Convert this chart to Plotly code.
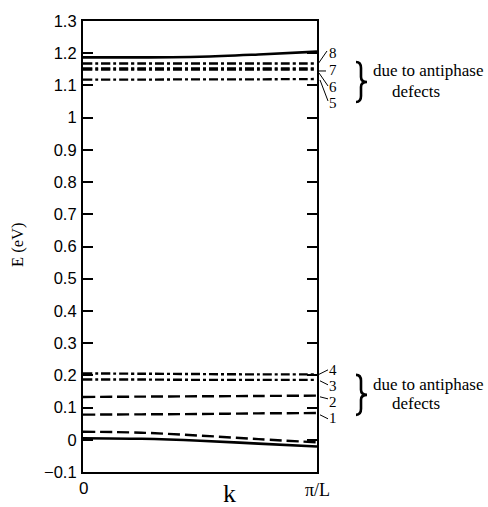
import plotly.graph_objects as go

# ---------------- data ----------------
k = [0.0, 0.25, 0.5, 0.75, 1.0]

band8 = [1.187, 1.187, 1.189, 1.196, 1.205]   # solid
band7 = [1.168, 1.168, 1.168, 1.168, 1.168]   # dash-dot
band6a = [1.153, 1.153, 1.153, 1.153, 1.153]  # dash-dot (thick pair)
band6b = [1.149, 1.149, 1.149, 1.149, 1.149]
band5 = [1.118, 1.118, 1.119, 1.119, 1.120]   # dash-dot

band4 = [0.206, 0.205, 0.204, 0.203, 0.203]   # dash-dot
band3 = [0.187, 0.187, 0.186, 0.186, 0.186]   # dash-dot
band2 = [0.133, 0.134, 0.135, 0.136, 0.137]   # dashed
band1 = [0.078, 0.079, 0.080, 0.082, 0.083]   # dashed
band_d = [0.025, 0.022, 0.013, 0.002, -0.008]  # dashed
band_s = [0.005, 0.003, -0.003, -0.012, -0.021]  # solid

y_tick_vals = [-0.1, 0.0, 0.1, 0.2, 0.3, 0.4, 0.5, 0.6, 0.7, 0.8, 0.9, 1.0, 1.1, 1.2, 1.3]
y_tick_text = ["\u22120.1", "0", "0.1", "0.2", "0.3", "0.4", "0.5", "0.6", "0.7",
               "0.8", "0.9", "1", "1.1", "1.2", "1.3"]
x_tick_text = ["0", "\u03c0/L"]
band_labels = ["1", "2", "3", "4", "5", "6", "7", "8"]
group_note = ["due to antiphase", "defects"]

# ---------------- layout helpers (page pixel coords) ----------------
W, H = 488, 507
L, R, T, B = 83, 317, 21, 472.2


def px(x):
    return (x - L) / (R - L)


def py(y):
    return (B - y) / (B - T)


SOLID = "solid"
DASH = "12px,5px"
DASHDOT = "9px,3px,3px,3px"

fig = go.Figure()


def add(vals, dash, width=2.4):
    fig.add_trace(go.Scatter(x=k, y=vals, mode="lines", line_shape="spline",
                             line=dict(color="black", width=width, dash=dash),
                             hoverinfo="skip", showlegend=False))


add(band8, SOLID, 2.6)
add(band7, DASHDOT, 2.3)
add(band6a, DASHDOT, 2.3)
add(band6b, DASHDOT, 2.3)
add(band5, DASHDOT, 2.3)
add(band4, DASHDOT, 2.4)
add(band3, DASHDOT, 2.4)
add(band2, DASH)
add(band1, DASH)
add(band_d, DASH)
add(band_s, SOLID, 2.6)

ann = []
shapes = []
serif = "Liberation Serif, Times New Roman, serif"
sans = "Liberation Sans, Arial, Helvetica, sans-serif"

# x tick labels
ann.append(dict(x=px(83), y=py(489), xref="paper", yref="paper", text=x_tick_text[0],
                showarrow=False, font=dict(family=sans, size=17, color="black"),
                xanchor="center", yanchor="middle"))
ann.append(dict(x=px(317), y=py(490), xref="paper", yref="paper", text=x_tick_text[1],
                showarrow=False, font=dict(family=serif, size=18, color="black"),
                xanchor="center", yanchor="middle"))

# band numbers with leader lines: (label, text pos, leader from, leader to)
leaders = [
    (band_labels[7], (333, 53), (318, 64), (327, 51)),
    (band_labels[6], (333, 70), (318, 71), (326, 71)),
    (band_labels[5], (333, 87), (319, 73), (328, 86)),
    (band_labels[4], (333, 103), (320, 80), (328, 101)),
    (band_labels[3], (333, 370), (318, 375), (328, 370)),
    (band_labels[2], (333, 386), (320, 381), (328, 385)),
    (band_labels[1], (333, 402), (320, 397), (328, 399)),
    (band_labels[0], (333, 418), (320, 415), (328, 419)),
]
for lab, (tx, ty), (x0, y0), (x1, y1) in leaders:
    ann.append(dict(x=px(tx), y=py(ty), xref="paper", yref="paper", text=lab,
                    showarrow=False, font=dict(family=serif, size=15, color="black"),
                    xanchor="center", yanchor="middle"))
    shapes.append(dict(type="line", xref="paper", yref="paper",
                       x0=px(x0), y0=py(y0), x1=px(x1), y1=py(y1),
                       line=dict(color="black", width=1)))


def brace(cy, half=20, xl=356, xm=361, xt=367):
    top, bot = cy - half, cy + half
    pts = [
        ("M", [(xl, top)]),
        ("Q", [(xm, top), (xm, top + 6)]),
        ("L", [(xm, cy - 5)]),
        ("Q", [(xm, cy), (xt, cy)]),
        ("Q", [(xm, cy), (xm, cy + 5)]),
        ("L", [(xm, bot - 6)]),
        ("Q", [(xm, bot), (xl, bot)]),
    ]
    s = ""
    for cmd, coords in pts:
        s += cmd + " " + " ".join(f"{px(a):.5f},{py(b):.5f}" for a, b in coords) + " "
    return s.strip()


# braces and notes
for cy, ty1, ty2 in [(82, 71, 92), (395, 385, 404)]:
    shapes.append(dict(type="path", xref="paper", yref="paper", path=brace(cy),
                       line=dict(color="black", width=2.6)))
    ann.append(dict(x=px(371), y=py(ty1), xref="paper", yref="paper", text=group_note[0],
                    showarrow=False, font=dict(family=serif, size=17, color="black"),
                    xanchor="left", yanchor="middle"))
    ann.append(dict(x=px(390), y=py(ty2), xref="paper", yref="paper", text=group_note[1],
                    showarrow=False, font=dict(family=serif, size=17, color="black"),
                    xanchor="left", yanchor="middle"))

# axis titles
ann.append(dict(x=px(229), y=py(494), xref="paper", yref="paper", text="k",
                showarrow=False, font=dict(family=serif, size=26, color="black"),
                xanchor="center", yanchor="middle"))
ann.append(dict(x=px(18), y=py(245), xref="paper", yref="paper", text="E (eV)",
                showarrow=False, textangle=-90,
                font=dict(family=serif, size=16.5, color="black"),
                xanchor="center", yanchor="middle"))

fig.update_layout(
    width=W, height=H,
    margin=dict(l=L, r=W - R, t=T, b=H - B, pad=0),
    paper_bgcolor="white", plot_bgcolor="white",
    annotations=ann, shapes=shapes,
    xaxis=dict(range=[0, 1], showgrid=False, zeroline=False, showticklabels=False,
               ticks="", showline=True, linecolor="black", linewidth=2.2, mirror=True),
    yaxis=dict(range=[-0.1, 1.3], showgrid=False, zeroline=False,
               tickvals=y_tick_vals, ticktext=y_tick_text,
               ticks="inside", ticklen=10, tickwidth=2, tickcolor="black",
               showline=True, linecolor="black", linewidth=2.2, mirror="ticks",
               tickfont=dict(family=sans, size=16.5, color="black"),
               ticklabelstandoff=1),
)

fig.write_html("out.html",
               config={"displayModeBar": False},
               post_script="document.body.style.margin='0';"
                           "document.body.style.overflow='hidden';")
